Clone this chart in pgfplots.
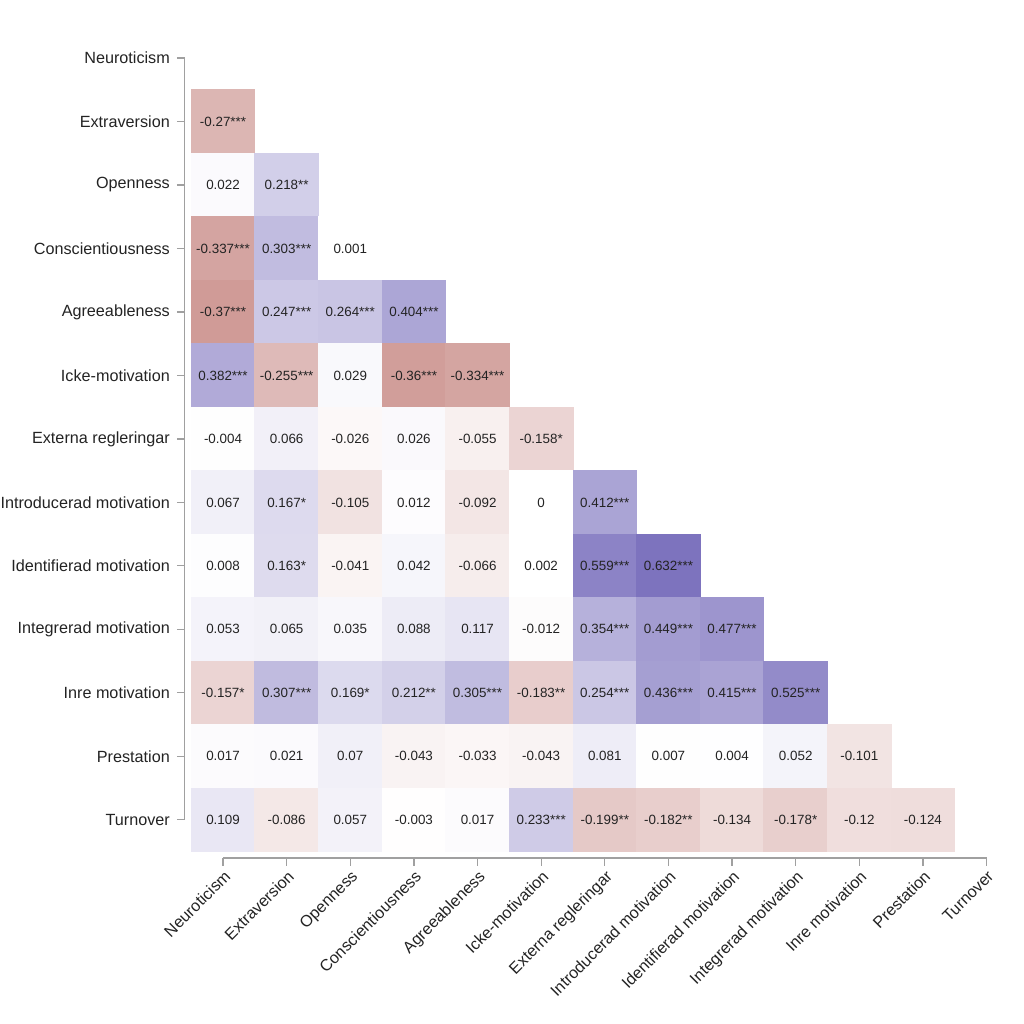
\documentclass[border=0pt]{standalone}
\usepackage{pgfplots}
\usepackage{pgfplotstable}
\pgfplotsset{compat=1.18}
\usepackage{fontspec}
\setmainfont{Liberation Sans}
\definecolor{axisgray}{RGB}{160,160,160}
\definecolor{txt}{RGB}{35,35,35}
\pgfplotstableread{
x y v lab
0 11 -0.27 -0.27***
0 10 0.022 0.022
1 10 0.218 0.218**
0 9 -0.337 -0.337***
1 9 0.303 0.303***
2 9 0.001 0.001
0 8 -0.37 -0.37***
1 8 0.247 0.247***
2 8 0.264 0.264***
3 8 0.404 0.404***
0 7 0.382 0.382***
1 7 -0.255 -0.255***
2 7 0.029 0.029
3 7 -0.36 -0.36***
4 7 -0.334 -0.334***
0 6 -0.004 -0.004
1 6 0.066 0.066
2 6 -0.026 -0.026
3 6 0.026 0.026
4 6 -0.055 -0.055
5 6 -0.158 -0.158*
0 5 0.067 0.067
1 5 0.167 0.167*
2 5 -0.105 -0.105
3 5 0.012 0.012
4 5 -0.092 -0.092
5 5 0 0
6 5 0.412 0.412***
0 4 0.008 0.008
1 4 0.163 0.163*
2 4 -0.041 -0.041
3 4 0.042 0.042
4 4 -0.066 -0.066
5 4 0.002 0.002
6 4 0.559 0.559***
7 4 0.632 0.632***
0 3 0.053 0.053
1 3 0.065 0.065
2 3 0.035 0.035
3 3 0.088 0.088
4 3 0.117 0.117
5 3 -0.012 -0.012
6 3 0.354 0.354***
7 3 0.449 0.449***
8 3 0.477 0.477***
0 2 -0.157 -0.157*
1 2 0.307 0.307***
2 2 0.169 0.169*
3 2 0.212 0.212**
4 2 0.305 0.305***
5 2 -0.183 -0.183**
6 2 0.254 0.254***
7 2 0.436 0.436***
8 2 0.415 0.415***
9 2 0.525 0.525***
0 1 0.017 0.017
1 1 0.021 0.021
2 1 0.07 0.07
3 1 -0.043 -0.043
4 1 -0.033 -0.033
5 1 -0.043 -0.043
6 1 0.081 0.081
7 1 0.007 0.007
8 1 0.004 0.004
9 1 0.052 0.052
10 1 -0.101 -0.101
0 0 0.109 0.109
1 0 -0.086 -0.086
2 0 0.057 0.057
3 0 -0.003 -0.003
4 0 0.017 0.017
5 0 0.233 0.233***
6 0 -0.199 -0.199**
7 0 -0.182 -0.182**
8 0 -0.134 -0.134
9 0 -0.178 -0.178*
10 0 -0.12 -0.12
11 0 -0.124 -0.124
}\corr
\begin{document}
\begin{tikzpicture}
\begin{axis}[
  x=31.82pt, y=31.75pt,
  xmin=-0.6, xmax=12, ymin=-0.6, ymax=12,
  clip=false,
  axis x line*=bottom, axis y line*=left,
  axis line style={draw=none},
  tick align=outside,
  major tick length=4pt,
  tick style={axisgray, line width=0.6pt},
  xtick={0,...,12}, ytick={0,...,12},
  xticklabels={Neuroticism,Extraversion,Openness,Conscientiousness,Agreeableness,Icke-motivation,Externa regleringar,Introducerad motivation,Identifierad motivation,Integrerad motivation,Inre motivation,Prestation,Turnover},
  yticklabels={Turnover,Prestation,Inre motivation,Integrerad motivation,Identifierad motivation,Introducerad motivation,Externa regleringar,Icke-motivation,Agreeableness,Conscientiousness,Openness,Extraversion,Neuroticism},
  ticklabel style={font=\fontsize{8.1}{9.7}\selectfont, text=txt},
  xticklabel style={rotate=45, anchor=north east, inner sep=1pt},
  yticklabel style={inner xsep=0pt, xshift=-3.3pt},
  colormap={corr}{rgb255=(174,84,78) rgb255=(255,255,255) rgb255=(125,115,190)},
  point meta min=-0.632, point meta max=0.632,
]
\addplot[scatter, only marks, mark=square*, mark size=15.91pt,
  point meta=explicit,
  scatter/use mapped color={draw=mapped color, fill=mapped color}]
  table[x=x, y=y, meta=v] {\corr};
\addplot[only marks, mark=none, nodes near coords,
  point meta=explicit symbolic,
  nodes near coords style={anchor=center, font=\fontsize{6.7}{8}\selectfont, text=txt}]
  table[x=x, y=y, meta=lab] {\corr};
\draw[axisgray, line width=0.6pt] (axis cs:-0.6,0) -- (axis cs:-0.6,12);
\draw[axisgray, line width=0.6pt] (axis cs:0,-0.6) -- (axis cs:12,-0.6);
\path (axis cs:-3.505,-3.213) rectangle (axis cs:12.588,12.913);
\end{axis}
\end{tikzpicture}
\end{document}
